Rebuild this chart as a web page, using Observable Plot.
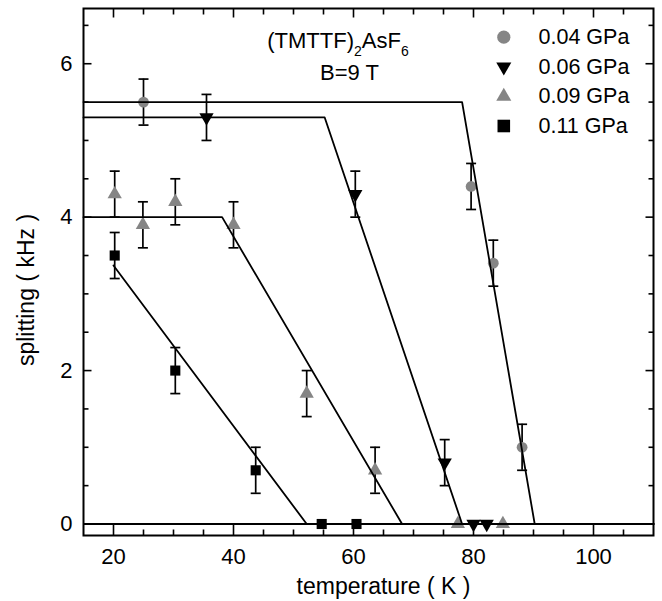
<!DOCTYPE html>
<html>
<head>
<meta charset="utf-8">
<script src="https://cdn.jsdelivr.net/npm/d3@7"></script>
<script src="https://cdn.jsdelivr.net/npm/@observablehq/plot@0.6"></script>
<style>
  html, body { margin: 0; padding: 0; background: #fff; }
  svg { display: block; }
</style>
</head>
<body>
<div id="chart"></div>
<script>
// ---------- data ----------
const seriesNames = ["0.04 GPa", "0.06 GPa", "0.09 GPa", "0.11 GPa"];
const seriesColors = ["#858585", "#000000", "#858585", "#000000"];

// 0.04 GPa (grey circles)
const t004 = [25.0, 79.6, 83.3, 88.1];
const s004 = [5.5, 4.4, 3.4, 1.0];
const e004 = [0.3, 0.3, 0.3, 0.3];
// 0.06 GPa (black down-triangles)
const t006 = [35.5, 60.3, 75.2, 80.0, 82.2];
const s006 = [5.3, 4.3, 0.8, 0.0, 0.0];
const e006 = [0.3, 0.3, 0.3, 0, 0];
// 0.09 GPa (grey up-triangles)
const t009 = [20.2, 24.9, 30.3, 40.0, 52.2, 63.6, 77.4, 84.9];
const s009 = [4.3, 3.9, 4.2, 3.9, 1.7, 0.7, 0.0, 0.0];
const e009 = [0.3, 0.3, 0.3, 0.3, 0.3, 0.3, 0, 0];
// 0.11 GPa (black squares)
const t011 = [20.2, 30.3, 43.7, 54.7, 60.5];
const s011 = [3.5, 2.0, 0.7, 0.0, 0.0];
const e011 = [0.3, 0.3, 0.3, 0, 0];

// guide-to-the-eye lines
const fitT004 = [15, 78.1, 90.2, 110];
const fitS004 = [5.5, 5.5, 0, 0];
const fitT006 = [15, 55.2, 78.1, 110];
const fitS006 = [5.3, 5.3, 0, 0];
const fitT009 = [15, 38.1, 68.1, 110];
const fitS009 = [4.0, 4.0, 0, 0];
const fitT011 = [20, 52.2, 110];
const fitS011 = [3.37, 0, 0];

// ticks and labels
const xTickValues = [20, 40, 60, 80, 100];
const xMinorTicks = [25, 30, 35, 45, 50, 55, 65, 70, 75, 85, 90, 95, 105];
const yTickValues = [0, 2, 4, 6];
const yMinorTicks = [0.5, 1, 1.5, 2.5, 3, 3.5, 4.5, 5, 5.5, 6.5];
const xLabel = "temperature ( K )";
const yLabel = "splitting ( kHz )";
const formula = "(TMTTF)2AsF6";
const fieldText = "B=9 T";

// ---------- build tables ----------
const pts = [[t004, s004, e004], [t006, s006, e006], [t009, s009, e009], [t011, s011, e011]];
const rows = [];
pts.forEach(([T, S, E], i) => T.forEach((t, j) => rows.push({series: seriesNames[i], t, s: S[j], e: E[j]})));
const fits = [[fitT004, fitS004], [fitT006, fitS006], [fitT009, fitS009], [fitT011, fitS011]];
const fitRows = [];
fits.forEach(([T, S], i) => T.forEach((t, j) => fitRows.push({series: seriesNames[i], t, s: S[j]})));
const errRows = rows.filter(d => d.e > 0);

// ---------- layout ----------
const W = 662, H = 601;
const mL = 83, mR = 9, mT = 8, mB = 66;

// ---------- symbols ----------
const sqrt3 = Math.sqrt(3);
const triangleDown = {
  draw(ctx, size) {
    const y = Math.sqrt(size / (sqrt3 * 3));
    ctx.moveTo(0, y * 2);
    ctx.lineTo(-sqrt3 * y, -y);
    ctx.lineTo(sqrt3 * y, -y);
    ctx.closePath();
  }
};
const cap = { draw(ctx) { ctx.moveTo(-5, 0); ctx.lineTo(5, 0); } };
// inward tick shapes (dx, dy direction and length in px)
const tickShape = (ux, uy, len) => ({ draw(ctx) { ctx.moveTo(0, 0); ctx.lineTo(ux * len, uy * len); } });
const seriesSymbols = [d3.symbolCircle, triangleDown, d3.symbolTriangle, d3.symbolSquare];
const seriesR = [5.4, 5.3, 5.3, 5.7];
const legendR = [6.6, 5.6, 5.6, 7.1];

const font = "'Liberation Sans', Arial, Helvetica, sans-serif";

const dataMarks = seriesNames.map((name, i) =>
  Plot.dot(rows.filter(d => d.series === name), {
    x: "t", y: "s", symbol: seriesSymbols[i], r: seriesR[i],
    fill: seriesColors[i], stroke: "none"
  })
);

const legendMarks = seriesNames.flatMap((name, i) => [
  Plot.dot([name], {frameAnchor: "top-left", dx: 420.3, dy: 28.7 + 29.6 * i,
    symbol: seriesSymbols[i], r: legendR[i], fill: seriesColors[i], stroke: "none"}),
  Plot.text([name], {frameAnchor: "top-left", dx: 455, dy: 28.7 + 29.6 * i,
    text: d => d, textAnchor: "start", lineAnchor: "middle", fontSize: 21.5, fill: "#000"})
]);

// inward ticks on all four sides, drawn as stroked symbols at the frame edges
const tk = {fill: "none", stroke: "#000", strokeWidth: 1.6};
const inwardTicks = [
  Plot.dot(xTickValues, {...tk, x: d => d, frameAnchor: "bottom", symbol: tickShape(0, -1, 11)}),
  Plot.dot(xMinorTicks, {...tk, x: d => d, frameAnchor: "bottom", symbol: tickShape(0, -1, 6)}),
  Plot.dot(xTickValues, {...tk, x: d => d, frameAnchor: "top", symbol: tickShape(0, 1, 9)}),
  Plot.dot(xMinorTicks, {...tk, x: d => d, frameAnchor: "top", symbol: tickShape(0, 1, 6)}),
  Plot.dot(yTickValues, {...tk, y: d => d, frameAnchor: "left", symbol: tickShape(1, 0, 8)}),
  Plot.dot(yMinorTicks, {...tk, y: d => d, frameAnchor: "left", symbol: tickShape(1, 0, 5)}),
  Plot.dot(yTickValues, {...tk, y: d => d, frameAnchor: "right", symbol: tickShape(-1, 0, 8)}),
  Plot.dot(yMinorTicks, {...tk, y: d => d, frameAnchor: "right", symbol: tickShape(-1, 0, 5)})
];

const chart = Plot.plot({
  width: W,
  height: H,
  marginLeft: mL,
  marginRight: mR,
  marginTop: mT,
  marginBottom: mB,
  x: {domain: [15, 110]},
  y: {domain: [-0.15, 6.72]},
  style: {fontFamily: font, fontSize: "22px", background: "#fff", color: "#000"},
  marks: [
    // error bars
    Plot.ruleX(errRows, {x: "t", y1: d => d.s - d.e, y2: d => d.s + d.e, stroke: "#000", strokeWidth: 1.7}),
    Plot.dot(errRows, {x: "t", y: d => d.s + d.e, symbol: cap, fill: "none", stroke: "#000", strokeWidth: 1.7}),
    Plot.dot(errRows, {x: "t", y: d => d.s - d.e, symbol: cap, fill: "none", stroke: "#000", strokeWidth: 1.7}),
    ...dataMarks,
    // zero line and guide lines
    Plot.ruleY([0], {stroke: "#000", strokeWidth: 1.8}),
    Plot.line(fitRows, {x: "t", y: "s", z: "series", stroke: "#000", strokeWidth: 1.8}),
    ...inwardTicks,
    // tick labels
    Plot.axisX(xTickValues, {anchor: "bottom", tickSize: 0, tickPadding: 13, fontSize: 22, label: null, tickFormat: d => String(d)}),
    Plot.axisY(yTickValues, {anchor: "left", tickSize: 0, tickPadding: 11, fontSize: 22, label: null, tickFormat: d => String(d)}),
    // axis titles
    Plot.text([xLabel], {frameAnchor: "bottom", dx: 15, dy: 51, text: d => d, textAnchor: "middle", lineAnchor: "middle", fontSize: 23, fill: "#000"}),
    Plot.text([yLabel], {frameAnchor: "left", dx: -57, dy: 18, rotate: -90, text: d => d, textAnchor: "middle", lineAnchor: "middle", fontSize: 23, fill: "#000"}),
    // annotation
    Plot.text([formula], {frameAnchor: "top-left", dx: 254.5, dy: 32, text: d => d, textAnchor: "middle", lineAnchor: "middle", fontSize: 22, fill: "#000"}),
    Plot.text([fieldText], {frameAnchor: "top-left", dx: 266, dy: 64.5, text: d => d, textAnchor: "middle", lineAnchor: "middle", fontSize: 22, fill: "#000"}),
    // legend
    ...legendMarks,
    Plot.frame({stroke: "#000", strokeWidth: 2})
  ]
});

// subscripts in the formula
const svgNS = "http://www.w3.org/2000/svg";
const ftext = [...chart.querySelectorAll("text")].find(t => t.textContent === formula);
if (ftext) {
  ftext.textContent = "";
  const parts = [["(TMTTF)", 0], ["2", 1], ["AsF", 0], ["6", 1]];
  let shifted = false;
  parts.forEach(([str, sub]) => {
    const ts = document.createElementNS(svgNS, "tspan");
    ts.textContent = str;
    if (sub) { ts.setAttribute("font-size", "14"); ts.setAttribute("dy", "8"); shifted = true; }
    else if (shifted) { ts.setAttribute("dy", "-8"); shifted = false; }
    ftext.appendChild(ts);
  });
}

document.getElementById("chart").appendChild(chart);
</script>
</body>
</html>
